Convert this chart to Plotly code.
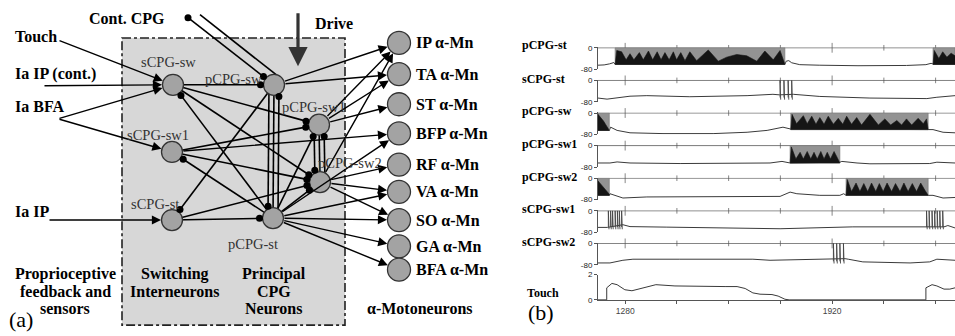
import math
import plotly.graph_objects as go

SERIF = "Times New Roman, Liberation Serif, serif"
SANS = "Arial, Liberation Sans, sans-serif"

# ======================= (a) network data =======================
cpg_names = ["sCPG-sw", "pCPG-sw", "pCPG-sw1", "sCPG-sw1", "pCPG-sw2", "sCPG-st", "pCPG-st"]
mn_names = ["IP", "TA", "ST", "BFP", "RF", "VA", "SO", "GA", "BFA"]
input_names = ["Touch", "Ia IP (cont.)", "Ia BFA", "Ia IP"]
input_targets = [["sCPG-sw"], ["sCPG-sw"], ["sCPG-sw", "sCPG-sw1"], ["sCPG-st"]]

inhibitory_links = [
    ("sCPG-sw", "pCPG-sw"), ("sCPG-sw", "pCPG-sw1"), ("sCPG-sw", "pCPG-sw2"),
    ("pCPG-st", "sCPG-sw"), ("sCPG-sw1", "pCPG-sw1"), ("sCPG-sw1", "pCPG-sw2"),
    ("pCPG-st", "sCPG-sw1"), ("pCPG-sw", "sCPG-st"), ("sCPG-st", "pCPG-st"),
    ("sCPG-st", "pCPG-sw2"), ("pCPG-st", "pCPG-sw1"), ("pCPG-st", "pCPG-sw2"),
]
mutual_links = [("pCPG-sw", "pCPG-st"), ("pCPG-sw1", "pCPG-sw2")]
excitatory_links = [
    ("pCPG-sw", "IP"), ("pCPG-sw", "TA"),
    ("pCPG-sw1", "IP"), ("pCPG-sw1", "TA"), ("pCPG-sw1", "ST"),
    ("sCPG-sw1", "BFP"),
    ("pCPG-sw2", "IP"), ("pCPG-sw2", "RF"), ("pCPG-sw2", "VA"), ("pCPG-sw2", "SO"),
    ("pCPG-st", "BFP"), ("pCPG-st", "VA"), ("pCPG-st", "SO"), ("pCPG-st", "GA"), ("pCPG-st", "BFA"),
]

# ======================= (b) trace data =======================
trace_names = ["pCPG-st", "sCPG-st", "pCPG-sw", "pCPG-sw1", "pCPG-sw2", "sCPG-sw1", "sCPG-sw2"]
time_start, time_end = 1196, 2300
time_ticks = [1280, 1440, 1600, 1760, 1920, 2080, 2240]
time_tick_labels = ["1280", "", "", "", "1920", "", ""]

pcpg_st_t = [1196, 1215, 1232, 1245, 1249, 1774, 1778, 1786, 1795, 1820, 1880, 2000, 2150, 2210, 2226, 2236, 2300]
pcpg_st_v = [-65, -64, -60, -55, -62, -62, -50, -48, -56, -63, -65, -67, -66, -63, -58, -62, -62]
pcpg_st_b1_t = [1249, 1254, 1269, 1283, 1295, 1307, 1324, 1336, 1352, 1365, 1379, 1391, 1403, 1416, 1429,
                1439, 1452, 1465, 1480, 1501, 1537, 1568, 1594, 1625, 1656, 1687, 1712, 1738, 1759, 1774]
pcpg_st_b1_v = [-62, -10, -15, -45, -22, -45, -18, -45, -12, -45, -15, -45, -18, -45, -15,
                -45, -18, -48, -15, -48, -8, -50, -35, -25, -30, -50, -12, -45, -10, -62]
pcpg_st_b2_t = [2232, 2236, 2250, 2262, 2275, 2288, 2300]
pcpg_st_b2_v = [-62, -10, -40, -15, -35, -20, -30]

scpg_st_t = [1196, 1224, 1295, 1347, 1480, 1657, 1737, 1757, 1800, 1882, 2037, 2213, 2244, 2300]
scpg_st_v = [-66, -70, -59, -57, -61, -57, -52, -54, -52, -60, -66, -68, -63, -57]
scpg_st_spikes = [1759, 1771, 1784, 1795]

pcpg_sw_t = [1196, 1231, 1235, 1255, 1295, 1397, 1552, 1657, 1719, 1768, 1792, 2217, 2232, 2263, 2300]
pcpg_sw_v = [-65, -65, -53, -65, -74, -77, -77, -72, -65, -53, -60, -60, -62, -72, -74]
pcpg_sw_b0_t = [1196, 1196, 1213, 1231]
pcpg_sw_b0_v = [-65, -5, -30, -62]
pcpg_sw_b1_t = [1792, 1796, 1810, 1831, 1843, 1857, 1870, 1882, 1895, 1908, 1924, 1939, 1953, 1965, 1980,
                1996, 2011, 2037, 2063, 2083, 2101, 2120, 2135, 2150, 2166, 2186, 2202, 2212, 2217]
pcpg_sw_b1_v = [-62, -5, -40, -10, -40, -12, -42, -17, -42, -12, -42, -20, -42, -12, -42,
                -17, -45, -5, -45, -22, -45, -28, -45, -22, -45, -20, -40, -22, -62]

pcpg_sw1_t = [1196, 1233, 1255, 1295, 1450, 1657, 1728, 1765, 1790, 1944, 1950, 1997, 2037, 2222, 2244, 2300]
pcpg_sw1_v = [-65, -65, -61, -65, -67, -67, -65, -59, -65, -62, -59, -65, -68, -67, -62, -65]
pcpg_sw1_b1_t = [1790, 1794, 1808, 1821, 1831, 1843, 1854, 1864, 1874, 1885, 1895, 1905, 1915, 1926, 1936, 1944]
pcpg_sw1_b1_v = [-65, -5, -50, -25, -50, -22, -50, -25, -50, -22, -50, -25, -50, -22, -45, -62]

pcpg_sw2_t = [1196, 1231, 1233, 1273, 1347, 1471, 1657, 1759, 1790, 1811, 1882, 1944, 1956, 1963, 2217, 2232, 2263, 2300]
pcpg_sw2_v = [-64, -64, -58, -74, -70, -70, -70, -68, -52, -58, -64, -64, -58, -64, -64, -64, -74, -72]
pcpg_sw2_b0_t = [1196, 1196, 1231]
pcpg_sw2_b0_v = [-64, -10, -60]
pcpg_sw2_b1_t = [1963, 1967, 1980, 1994, 2006, 2018, 2030, 2042, 2055, 2066, 2078, 2090, 2104, 2116,
                 2130, 2142, 2155, 2168, 2181, 2194, 2207, 2217]
pcpg_sw2_b1_v = [-64, -5, -50, -18, -50, -20, -50, -18, -50, -20, -50, -18, -50, -20,
                 -50, -18, -50, -20, -50, -18, -45, -64]

scpg_sw1_t = [1196, 1225, 1273, 1295, 1409, 1635, 1759, 1984, 2192, 2210, 2266, 2278, 2300]
scpg_sw1_v = [-62, -62, -52, -59, -61, -64, -67, -60, -58, -60, -60, -55, -64]
scpg_sw1_spikes = [1228, 1235, 1241, 1249, 1256, 1262, 1269, 2212, 2220, 2229, 2237, 2245, 2253, 2262]

scpg_sw2_t = [1196, 1233, 1273, 1304, 1449, 1675, 1728, 1882, 1919, 1960, 1970, 2015, 2161, 2222, 2244, 2300]
scpg_sw2_v = [-73, -73, -63, -59, -59, -59, -63, -59, -57, -57, -59, -69, -73, -69, -59, -63]
scpg_sw2_spikes = [1924, 1934, 1944, 1955]

touch_t = [1196, 1223, 1223, 1239, 1255, 1279, 1301, 1341, 1375, 1434, 1511, 1589, 1626, 1651, 1675,
           1697, 1734, 1753, 1774, 1787, 2210, 2210, 2229, 2244, 2266, 2284, 2300]
touch_v = [0, 0, 0.95, 1.3, 1.2, 0.8, 0.72, 1.0, 1.2, 1.1, 1.05, 1.05, 1.05, 0.9, 0.55,
           0.45, 0.42, 0.3, 0.05, 0, 0, 0.95, 1.2, 1.1, 0.85, 0.85, 0.95]

spike_trough = {"sCPG-st": -72, "sCPG-sw1": -69, "sCPG-sw2": -75}

rows = [
    dict(t=pcpg_st_t, v=pcpg_st_v, bursts=[(pcpg_st_b1_t, pcpg_st_b1_v), (pcpg_st_b2_t, pcpg_st_b2_v)], spikes=[]),
    dict(t=scpg_st_t, v=scpg_st_v, bursts=[], spikes=scpg_st_spikes),
    dict(t=pcpg_sw_t, v=pcpg_sw_v, bursts=[(pcpg_sw_b0_t, pcpg_sw_b0_v), (pcpg_sw_b1_t, pcpg_sw_b1_v)], spikes=[]),
    dict(t=pcpg_sw1_t, v=pcpg_sw1_v, bursts=[(pcpg_sw1_b1_t, pcpg_sw1_b1_v)], spikes=[]),
    dict(t=pcpg_sw2_t, v=pcpg_sw2_v, bursts=[(pcpg_sw2_b0_t, pcpg_sw2_b0_v), (pcpg_sw2_b1_t, pcpg_sw2_b1_v)], spikes=[]),
    dict(t=scpg_sw1_t, v=scpg_sw1_v, bursts=[], spikes=scpg_sw1_spikes),
    dict(t=scpg_sw2_t, v=scpg_sw2_v, bursts=[], spikes=scpg_sw2_spikes),
]

# ======================= geometry / style =======================
W, H = 955, 336
node_xy = {"sCPG-sw": (173, 83), "pCPG-sw": (274, 83), "pCPG-sw1": (319, 124), "sCPG-sw1": (172, 152),
           "pCPG-sw2": (320, 183), "sCPG-st": (172, 222), "pCPG-st": (273, 220)}
node_label_xy = {"sCPG-sw": (168, 60), "pCPG-sw": (233, 77), "pCPG-sw1": (314, 106), "sCPG-sw1": (158, 135),
                 "pCPG-sw2": (350, 163), "sCPG-st": (155, 206), "pCPG-st": (253, 247)}
MN_X = 399
mn_y_px = [40, 72, 103, 133, 165, 193, 222, 249, 273]
for n, y in zip(mn_names, mn_y_px):
    node_xy[n] = (MN_X, y)
input_label_xy = {"Touch": (13, 33), "Ia IP (cont.)": (13, 72), "Ia BFA": (13, 105), "Ia IP": (13, 213)}
input_tail_xy = {"Touch": (58, 37), "Ia IP (cont.)": (43, 84), "Ia BFA": (58, 118), "Ia IP": (48, 222)}
R_CPG, R_MN = 10, 11
NODE_FILL = "#a3a3a3"

fig = go.Figure()
annotations = []


def add_text(text, x, y, size, bold=False, color="black", xanchor="center", family=SERIF):
    annotations.append(dict(x=x, y=y, xref="x", yref="y", text=(f"<b>{text}</b>" if bold else text),
                            showarrow=False, font=dict(family=family, size=size, color=color),
                            xanchor=xanchor, yanchor="middle"))


def add_arrow(x, y, ax, ay, standoff, startstandoff=0, width=1.4, size=1.3, color="black"):
    annotations.append(dict(x=x, y=y, ax=ax, ay=ay, xref="x", yref="y", axref="x", ayref="y",
                            showarrow=True, arrowhead=2, arrowsize=size, arrowwidth=width,
                            arrowcolor=color, standoff=standoff, startstandoff=startstandoff, text=""))


def inhib_segment(p0, p1, r, dx=0.0):
    x0, y0 = p0[0] + dx, p0[1]
    x1, y1 = p1[0] + dx, p1[1]
    L = math.hypot(x1 - x0, y1 - y0)
    ux, uy = (x1 - x0) / L, (y1 - y0) / L
    perp = abs(dx * uy)
    back = math.sqrt(max(r * r - perp * perp, 0)) + 3.5
    return (x0, y0), (x1 - ux * back, y1 - uy * back)


ex, ey, dxs, dys = [], [], [], []
for s, t in inhibitory_links:
    a, d = inhib_segment(node_xy[s], node_xy[t], R_CPG)
    ex += [a[0], d[0], None]; ey += [a[1], d[1], None]
    dxs.append(d[0]); dys.append(d[1])
for up, lo in mutual_links:
    a, d = inhib_segment(node_xy[up], node_xy[lo], R_CPG, dx=-5)
    ex += [a[0], d[0], None]; ey += [a[1], d[1], None]; dxs.append(d[0]); dys.append(d[1])
    ex += [node_xy[up][0], node_xy[lo][0], None]; ey += [node_xy[up][1], node_xy[lo][1], None]
    a, d = inhib_segment(node_xy[lo], node_xy[up], R_CPG, dx=5)
    ex += [a[0], d[0], None]; ey += [a[1], d[1], None]; dxs.append(d[0]); dys.append(d[1])

# Cont. CPG input
cont_src = (188, 14)
a, d = inhib_segment(cont_src, node_xy["pCPG-sw"], R_CPG)
ex += [a[0], d[0], None]; ey += [a[1], d[1], None]; dxs += [cont_src[0], d[0]]; dys += [cont_src[1], d[1]]
ex += [200, node_xy["pCPG-sw"][0] + 5, None]; ey += [11, node_xy["pCPG-sw"][1] - 8, None]

# box
shapes = [dict(type="rect", xref="x", yref="y", x0=122, x1=345, y0=35, y1=330,
               fillcolor="#d7d7d7", line=dict(color="#222", width=1.6, dash="dashdot"), layer="below")]

fig.add_trace(go.Scatter(x=ex, y=ey, mode="lines", line=dict(color="black", width=1.6),
                         xaxis="x", yaxis="y", hoverinfo="skip", showlegend=False))
fig.add_trace(go.Scatter(x=[node_xy[n][0] for n in cpg_names], y=[node_xy[n][1] for n in cpg_names],
                         mode="markers", marker=dict(size=2 * R_CPG + 1, color=NODE_FILL,
                                                     line=dict(color="#333", width=1.3)),
                         xaxis="x", yaxis="y", hoverinfo="skip", showlegend=False))
fig.add_trace(go.Scatter(x=[node_xy[n][0] for n in mn_names], y=[node_xy[n][1] for n in mn_names],
                         mode="markers", marker=dict(size=2 * R_MN + 1, color=NODE_FILL,
                                                     line=dict(color="#333", width=1.3)),
                         xaxis="x", yaxis="y", hoverinfo="skip", showlegend=False))
fig.add_trace(go.Scatter(x=dxs, y=dys, mode="markers", marker=dict(size=7, color="black"),
                         xaxis="x", yaxis="y", hoverinfo="skip", showlegend=False))

for s, t in excitatory_links:
    sx, sy = node_xy[s]; tx, ty = node_xy[t]
    add_arrow(tx, ty, sx, sy, standoff=R_MN + 1, startstandoff=R_CPG)
for name, targets in zip(input_names, input_targets):
    tx0, ty0 = input_tail_xy[name]
    for tg in targets:
        add_arrow(node_xy[tg][0], node_xy[tg][1], tx0, ty0, standoff=R_CPG + 1)
# Drive
add_arrow(298, 64, 298, 8, standoff=0, width=3.2, size=1.2, color="#333")

add_text("Cont. CPG", 127, 15, 16, bold=True)
add_text("Drive", 334, 20, 16, bold=True)
for name in input_names:
    x, y = input_label_xy[name]
    add_text(name, x, y, 16, bold=True, xanchor="left")
for n in cpg_names:
    x, y = node_label_xy[n]
    add_text(n, x, y, 14.5, color="#333")
for n, y in zip(mn_names, mn_y_px):
    add_text(n + " α-Mn", 414, y, 16, bold=True, xanchor="left")
for txt, y in zip(["Proprioceptive", "feedback and", "sensors"], [277, 295, 313]):
    add_text(txt, 65, y, 16, bold=True)
for txt, y in zip(["Switching", "Interneurons"], [277, 295]):
    add_text(txt, 175, y, 16, bold=True)
for txt, y in zip(["Principal", "CPG", "Neurons"], [277, 295, 313]):
    add_text(txt, 274, y, 16, bold=True)
add_text("α-Motoneurons", 420, 313, 16, bold=True)
add_text("(a)", 21, 324, 22)

# ======================= (b) traces =======================
ROW_ZERO_PX = [45, 78.5, 112, 145.5, 179, 212.5, 246]
PX_PER_MV = 22 / 80
TOUCH_ZERO_PX, TOUCH_TOP_PX = 304, 278
X0_PX = 598
row_label_y = [42, 77, 110, 144, 178, 211, 245]
TRACE_C = "#3a3a3a"
GRID_C = "#6a6a6a"

layout_axes = {}
layout_axes["xaxis2"] = dict(domain=[X0_PX / W, 1], range=[time_start, time_end], anchor="y9",
                             showline=True, linecolor="#555", linewidth=1, ticks="outside", ticklen=3,
                             tickcolor="#555", tickvals=time_ticks, ticktext=time_tick_labels,
                             tickfont=dict(family=SANS, size=8.5, color="#444"), showgrid=False,
                             zeroline=False)

major = [1 if lab else 0 for lab in time_tick_labels]
for i, row in enumerate(rows):
    ya = f"y{i + 2}"
    z = ROW_ZERO_PX[i]
    top_px = z - 2 * PX_PER_MV
    bot_px = z + 80 * PX_PER_MV
    layout_axes[f"yaxis{i + 2}"] = dict(domain=[1 - bot_px / H, 1 - top_px / H], range=[-80, 2], anchor="x2",
                                        showline=True, linecolor="#555", linewidth=1, ticks="outside",
                                        ticklen=3, tickcolor="#555", tickvals=[-80, 0], ticktext=["-80", "0"],
                                        tickfont=dict(family=SANS, size=8, color="#222"), showgrid=False,
                                        zeroline=False)
    fig.add_trace(go.Scatter(x=[time_start, time_end], y=[0, 0], mode="lines",
                             line=dict(color=GRID_C, width=0.9), xaxis="x2", yaxis=ya,
                             hoverinfo="skip", showlegend=False))
    fig.add_trace(go.Scatter(x=time_ticks, y=[0] * len(time_ticks), mode="markers", cliponaxis=False,
                             marker=dict(symbol="line-ns", size=[7 if m else 4 for m in major],
                                         line=dict(color="#555", width=1)),
                             xaxis="x2", yaxis=ya, hoverinfo="skip", showlegend=False))
    fig.add_trace(go.Scatter(x=row["t"], y=row["v"], mode="lines", line=dict(color=TRACE_C, width=1),
                             xaxis="x2", yaxis=ya, hoverinfo="skip", showlegend=False))
    for bt, bv in row["bursts"]:
        bottom = bv[0]
        t0, t1 = bt[0], bt[-1]
        fig.add_trace(go.Scatter(x=[t0, t1, t1, t0, t0], y=[bottom, bottom, 0, 0, bottom], mode="lines",
                                 fill="toself", fillcolor="#939393", line=dict(width=0.6, color="#777"),
                                 xaxis="x2", yaxis=ya, hoverinfo="skip", showlegend=False))
        fig.add_trace(go.Scatter(x=list(bt) + [t1, t0], y=list(bv) + [bottom, bottom], mode="lines",
                                 fill="toself", fillcolor="#151515", line=dict(width=0.6, color="#151515"),
                                 xaxis="x2", yaxis=ya, hoverinfo="skip", showlegend=False))
    if row["spikes"]:
        tr = spike_trough[trace_names[i]]
        sx, sy = [], []
        for t in row["spikes"]:
            sx += [t, t, t + 2, None]
            sy += [tr + 8, 0, tr, None]
        fig.add_trace(go.Scatter(x=sx, y=sy, mode="lines", line=dict(color="#444", width=0.9),
                                 xaxis="x2", yaxis=ya, hoverinfo="skip", showlegend=False))
    add_text(trace_names[i], 520, row_label_y[i], 12, bold=True, xanchor="left")

layout_axes["yaxis9"] = dict(domain=[1 - (TOUCH_ZERO_PX + 0.4) / H, 1 - TOUCH_TOP_PX / H], range=[-0.03, 2],
                             anchor="x2", showline=True, linecolor="#555", linewidth=1, ticks="outside",
                             ticklen=3, tickcolor="#555", tickvals=[0, 2], ticktext=["0", "2"],
                             tickfont=dict(family=SANS, size=8, color="#222"), showgrid=False, zeroline=False)
fig.add_trace(go.Scatter(x=touch_t, y=touch_v, mode="lines", line=dict(color=TRACE_C, width=1),
                         xaxis="x2", yaxis="y9", hoverinfo="skip", showlegend=False))
add_text("Touch", 525, 297, 12, bold=True, xanchor="left")
add_text("(b)", 541, 317, 22)

fig.update_layout(
    width=W, height=H, autosize=False,
    margin=dict(l=0, r=0, t=0, b=0),
    paper_bgcolor="white", plot_bgcolor="rgba(0,0,0,0)",
    xaxis=dict(domain=[0, 1], range=[0, W], visible=False, fixedrange=True),
    yaxis=dict(domain=[0, 1], range=[H, 0], visible=False, fixedrange=True),
    shapes=shapes, annotations=annotations, showlegend=False, hovermode=False,
    **layout_axes,
)

fig.write_html("out.html", config={"displayModeBar": False, "staticPlot": True},
               post_script="document.body.style.margin='0';document.body.style.overflow='hidden';")
